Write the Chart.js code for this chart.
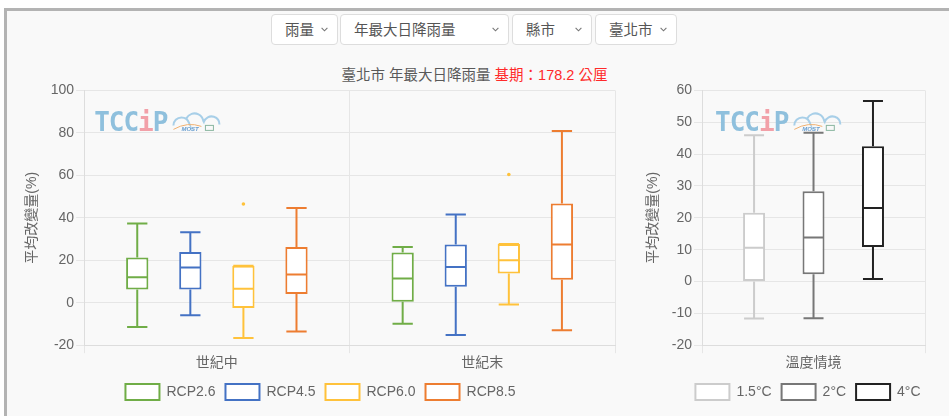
<!DOCTYPE html>
<html>
<head>
<meta charset="utf-8">
<script src="https://cdn.jsdelivr.net/npm/chart.js@4/dist/chart.umd.min.js"></script>
<style>
body { margin:0; background:#fff; font-family:"Liberation Sans","Noto Sans CJK TC",sans-serif; }
#frame { position:absolute; left:4px; top:8px; width:960px; height:420px; border-top:3px solid #b3b3b3; border-left:3px solid #b3b3b3; background:#f9f9f9; }
#page { position:absolute; left:0; top:0; width:949px; height:416px; overflow:hidden; }
select { position:absolute; top:14px; height:31px; border:1px solid #ddd; border-radius:4px; padding:0 0 0 13px; font-family:"Liberation Sans","Noto Sans CJK TC",sans-serif; font-size:14.5px; color:#555; -webkit-appearance:none; appearance:none; background:#fff url("data:image/svg+xml;utf8,<svg xmlns='http://www.w3.org/2000/svg' width='7' height='5'><path d='M0.6 0.8 L3.5 3.8 L6.4 0.8' fill='none' stroke='%23777' stroke-width='1.1'/></svg>") no-repeat right 9px center; }
#title { position:absolute; left:0; width:949px; top:63px; text-align:center; font-size:14.5px; color:#595959; }
#title span { color:#ff2a2a; }
canvas { position:absolute; }
</style>
</head>
<body>
<div id="page">
<div id="frame"></div>
<select style="left:271px;width:67px"><option>雨量</option></select>
<select style="left:340px;width:169px"><option>年最大日降雨量</option></select>
<select style="left:512px;width:80px"><option>縣市</option></select>
<select style="left:595px;width:82px"><option>臺北市</option></select>
<div id="title">臺北市 年最大日降雨量 <span>基期：178.2 公厘</span></div>
<canvas id="rcpChart" width="599" height="330" style="left:20px;top:80px"></canvas>
<canvas id="warmChart" width="288" height="330" style="left:641px;top:80px"></canvas>
</div>
<script>
// RCP scenarios, one row per scenario, [世紀中, 世紀末]
var periods = ['世紀中', '世紀末'];
var rcpNames = ['RCP2.6', 'RCP4.5', 'RCP6.0', 'RCP8.5'];
var rcpColors = ['#70ad47', '#4472c4', '#ffc23b', '#ed7d31'];
var rcpMin = [[-11.4, -9.9], [-5.9, -15.2], [-16.6, -0.8], [-13.6, -13.0]];
var rcpQ1 = [[6.2, 0.5], [6.2, 7.5], [-2.5, 13.8], [4.1, 10.8]];
var rcpMed = [[12.0, 11.4], [16.6, 16.8], [6.6, 20.0], [13.3, 27.4]];
var rcpQ3 = [[21.3, 23.7], [23.9, 27.4], [17.4, 27.7], [26.2, 46.7]];
var rcpMax = [[37.3, 26.2], [33.2, 41.5], [17.4, 27.7], [44.6, 80.9]];
var rcpOutliers = [[[], []], [[], []], [[46.5], [60.4]], [[], []]];

// warming levels
var warmLabels = ['溫度情境'];
var warmNames = ['1.5°C', '2°C', '4°C'];
var warmColors = ['#cccccc', '#777777', '#222222'];
var warmMin = [-11.6, -11.5, 0.8];
var warmQ1 = [0.0, 2.3, 10.8];
var warmMed = [10.6, 13.8, 23.1];
var warmQ3 = [21.6, 28.3, 42.5];
var warmMax = [45.9, 46.7, 56.7];

var fontFam = '"Liberation Sans","Noto Sans CJK TC",sans-serif';
var gridColor = '#e6e6e6';
var textColor = '#666';

// whiskers, caps, median and outliers on top of the floating bars
var boxWhiskers = {
  id: 'boxWhiskers',
  afterDatasetsDraw: function (chart) {
    var ctx = chart.ctx;
    var ys = chart.scales.y;
    for (var i = 0; i < chart.data.datasets.length; i++) {
      var ds = chart.data.datasets[i];
      var meta = chart.getDatasetMeta(i);
      if (meta.hidden) continue;
      for (var j = 0; j < meta.data.length; j++) {
        var bar = meta.data[j];
        var x = bar.x;
        var half = bar.width / 2;
        var yMin = ys.getPixelForValue(ds.whiskerMin[j]);
        var yMax = ys.getPixelForValue(ds.whiskerMax[j]);
        var yQ1 = ys.getPixelForValue(ds.data[j][0]);
        var yQ3 = ys.getPixelForValue(ds.data[j][1]);
        var yMed = ys.getPixelForValue(ds.median[j]);
        ctx.save();
        ctx.strokeStyle = ds.borderColor;
        ctx.lineWidth = 2;
        ctx.beginPath();
        ctx.moveTo(x, yQ3); ctx.lineTo(x, yMax);
        ctx.moveTo(x - half + 1, yMax); ctx.lineTo(x + half - 1, yMax);
        ctx.moveTo(x, yQ1); ctx.lineTo(x, yMin);
        ctx.moveTo(x - half + 1, yMin); ctx.lineTo(x + half - 1, yMin);
        ctx.moveTo(x - half + 1, yMed); ctx.lineTo(x + half - 1, yMed);
        ctx.stroke();
        var outs = ds.outliers ? ds.outliers[j] : [];
        ctx.fillStyle = ds.borderColor;
        for (var k = 0; k < outs.length; k++) {
          ctx.beginPath();
          ctx.arc(x, ys.getPixelForValue(outs[k]), 1.8, 0, Math.PI * 2);
          ctx.fill();
        }
        ctx.restore();
      }
    }
  }
};

// TCCIP watermark in the upper left of the plot
var tccipMark = {
  id: 'tccipMark',
  beforeDatasetsDraw: function (chart, args, opts) {
    var ctx = chart.ctx;
    var x = chart.chartArea.left + opts.dx;
    var y = chart.chartArea.top + 41;
    ctx.save();
    ctx.font = 'bold 26px "DejaVu Sans Mono"';
    ctx.textBaseline = 'alphabetic';
    var letters = ['T', 'C', 'C', 'i', 'P'];
    var cx = x;
    for (var i = 0; i < letters.length; i++) {
      ctx.fillStyle = letters[i] === 'i' ? '#f2a0a8' : '#8fc0dd';
      ctx.fillText(letters[i], cx, y);
      cx += ctx.measureText(letters[i]).width - 1;
    }
    // cloud
    ctx.strokeStyle = '#a8cfe8';
    ctx.lineWidth = 2;
    ctx.beginPath();
    ctx.arc(cx + 14, y - 6, 8, Math.PI, Math.PI * 1.9);
    ctx.arc(cx + 27, y - 9, 9, Math.PI * 1.15, Math.PI * 1.95);
    ctx.arc(cx + 44, y - 7, 8, Math.PI * 1.1, Math.PI * 2);
    ctx.stroke();
    ctx.strokeStyle = '#f0b070';
    ctx.lineWidth = 1;
    ctx.beginPath();
    ctx.moveTo(cx + 6, y - 2);
    ctx.quadraticCurveTo(cx + 20, y - 10, cx + 34, y - 5);
    ctx.stroke();
    ctx.fillStyle = '#6a9fd0';
    ctx.font = 'italic bold 6px "Liberation Sans"';
    ctx.fillText('MOST', cx + 14, y);
    ctx.strokeStyle = '#8ab6a0';
    ctx.strokeRect(cx + 38, y - 6, 8, 5);
    ctx.restore();
  }
};

// move the bottom legend a little
var legendShift = {
  id: 'legendShift',
  afterLayout: function (chart, args, opts) {
    if (!chart.legend) return;
    chart.legend.left += opts.dx || 0;
    chart.legend.right += opts.dx || 0;
    chart.legend.top += opts.dy || 0;
    chart.legend.bottom += opts.dy || 0;
  }
};

function makeSets(names, colors, q1, q3, med, lo, hi, outs) {
  var sets = [];
  for (var i = 0; i < names.length; i++) {
    var pairs = [];
    for (var j = 0; j < q1[i].length; j++) pairs.push([q1[i][j], q3[i][j]]);
    sets.push({
      label: names[i],
      data: pairs,
      median: med[i],
      whiskerMin: lo[i],
      whiskerMax: hi[i],
      outliers: outs ? outs[i] : null,
      backgroundColor: '#ffffff',
      borderColor: colors[i],
      borderWidth: 2,
      borderSkipped: false
    });
  }
  return sets;
}

function boxOptions(yMin, yMax, step, barPct, markDx, legendDx) {
  return {
    responsive: false,
    animation: false,
    devicePixelRatio: 1,
    layout: { padding: { top: 6, left: 0, right: 4, bottom: 0 } },
    datasets: { bar: { barPercentage: barPct, categoryPercentage: 0.8 } },
    scales: {
      x: {
        grid: { color: gridColor, tickLength: 8 },
        border: { color: '#dddddd' },
        ticks: { color: textColor, padding: 2, font: { size: 14, family: fontFam } }
      },
      y: {
        min: yMin, max: yMax,
        grid: { color: gridColor, tickLength: 8 },
        border: { color: '#dddddd' },
        ticks: { stepSize: step, color: textColor, padding: 2, font: { size: 14, family: fontFam } },
        title: { display: true, text: '平均改變量(%)', color: textColor, padding: { top: 4, bottom: 8 }, font: { size: 14, family: fontFam } }
      }
    },
    plugins: {
      legend: {
        position: 'bottom',
        labels: { boxWidth: 34, boxHeight: 16, padding: 10, color: textColor, font: { size: 14, family: fontFam } }
      },
      tooltip: { enabled: false },
      tccipMark: { dx: markDx },
      legendShift: { dx: legendDx, dy: 0 }
    }
  };
}

function wrap(a) {
  var out = [];
  for (var i = 0; i < a.length; i++) out.push([a[i]]);
  return out;
}

new Chart(document.getElementById('rcpChart'), {
  type: 'bar',
  data: {
    labels: periods,
    datasets: makeSets(rcpNames, rcpColors, rcpQ1, rcpQ3, rcpMed, rcpMin, rcpMax, rcpOutliers)
  },
  options: boxOptions(-20, 100, 20, 0.42, 10, 3),
  plugins: [boxWhiskers, tccipMark, legendShift]
});

new Chart(document.getElementById('warmChart'), {
  type: 'bar',
  data: {
    labels: warmLabels,
    datasets: makeSets(warmNames, warmColors, wrap(warmQ1), wrap(warmQ3), wrap(warmMed), wrap(warmMin), wrap(warmMax), null)
  },
  options: boxOptions(-20, 60, 10, 0.37, 13, 25),
  plugins: [boxWhiskers, tccipMark, legendShift]
});
</script>
</body>
</html>
